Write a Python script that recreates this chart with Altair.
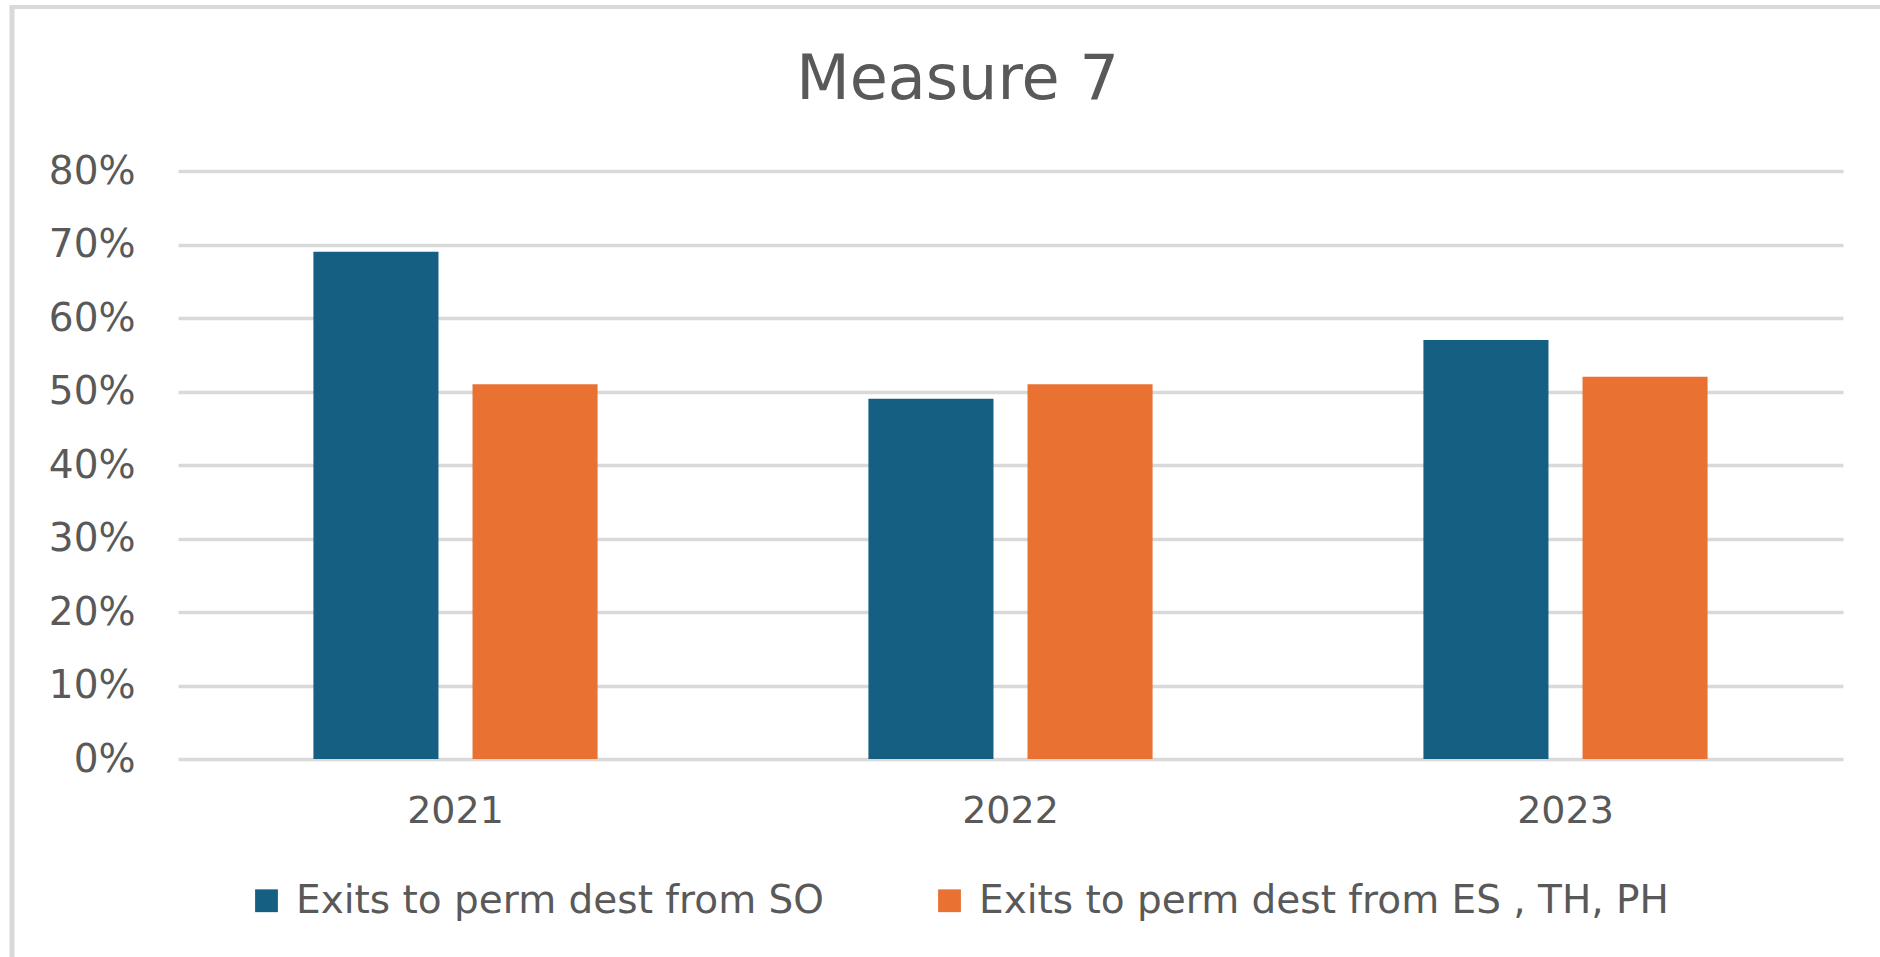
import altair as alt
import pandas as pd

title_text = "Measure 7"
years = ["2021", "2022", "2023"]
series = ["Exits to perm dest from SO", "Exits to perm dest from ES , TH, PH"]
so_values = [0.69, 0.49, 0.57]
es_values = [0.51, 0.51, 0.52]
colors = ["#156082", "#E97132"]
y_ticks = [0, 0.1, 0.2, 0.3, 0.4, 0.5, 0.6, 0.7, 0.8]

rows = []
for i, y in enumerate(years):
    rows.append({"year": y, "series": series[0], "value": so_values[i]})
    rows.append({"year": y, "series": series[1], "value": es_values[i]})
df = pd.DataFrame(rows)

FONT = "DejaVu Sans"
GRAY = "#595959"

bars = alt.Chart(df).mark_bar(stroke=None).encode(
    x=alt.X("year:N", sort=years, title=None,
            scale=alt.Scale(paddingInner=0.488, paddingOuter=0.244),
            axis=alt.Axis(labelAngle=0, labelFontSize=38, labelColor=GRAY, labelFont=FONT,
                          ticks=False, tickSize=0, domain=False, labelPadding=33, grid=False)),
    xOffset=alt.XOffset("series:N", sort=series, scale=alt.Scale(paddingInner=0.214, paddingOuter=0)),
    y=alt.Y("value:Q", title=None,
            scale=alt.Scale(domain=[0, 0.8], nice=False),
            axis=alt.Axis(format=".0%", values=y_ticks, labelFontSize=39, labelColor=GRAY, labelFont=FONT,
                          ticks=False, tickSize=0, domain=False, labelPadding=43,
                          grid=True, gridColor="#d9d9d9", gridWidth=3.5)),
    color=alt.Color("series:N", sort=series, scale=alt.Scale(domain=series, range=colors),
                    legend=alt.Legend(title=None, orient="none", direction="horizontal",
                                      legendX=69, legendY=710, symbolType="square",
                                      symbolSize=520, symbolStrokeWidth=0, labelFontSize=39,
                                      labelFont=FONT, labelColor=GRAY, labelOffset=10,
                                      columnPadding=106, labelLimit=1000, padding=0)),
)

title = alt.Chart(alt.Data(values=[{"t": title_text}])).mark_text(
    font=FONT, fontSize=62, color=GRAY, align="center", baseline="alphabetic"
).encode(text="t:N", x=alt.value(779.5), y=alt.value(-72))

border = alt.Data(values=[{"k": 1}])
top_border = alt.Chart(border).mark_rule(color="#d9d9d9", strokeWidth=4).encode(
    x=alt.value(-166), x2=alt.value(1720), y=alt.value(-164)
)
left_border = alt.Chart(border).mark_rule(color="#d9d9d9", strokeWidth=5).encode(
    x=alt.value(-166), y=alt.value(-166), y2=alt.value(790)
)

chart = alt.layer(bars, title, top_border, left_border).properties(
    width=1665,
    height=588,
    autosize=alt.AutoSizeParams(type="none"),
    padding={"left": 178, "top": 171, "right": 37, "bottom": 198},
).configure(background="white").configure_view(stroke=None)

chart.save("out.html", embed_options={"renderer": "svg", "actions": False})
